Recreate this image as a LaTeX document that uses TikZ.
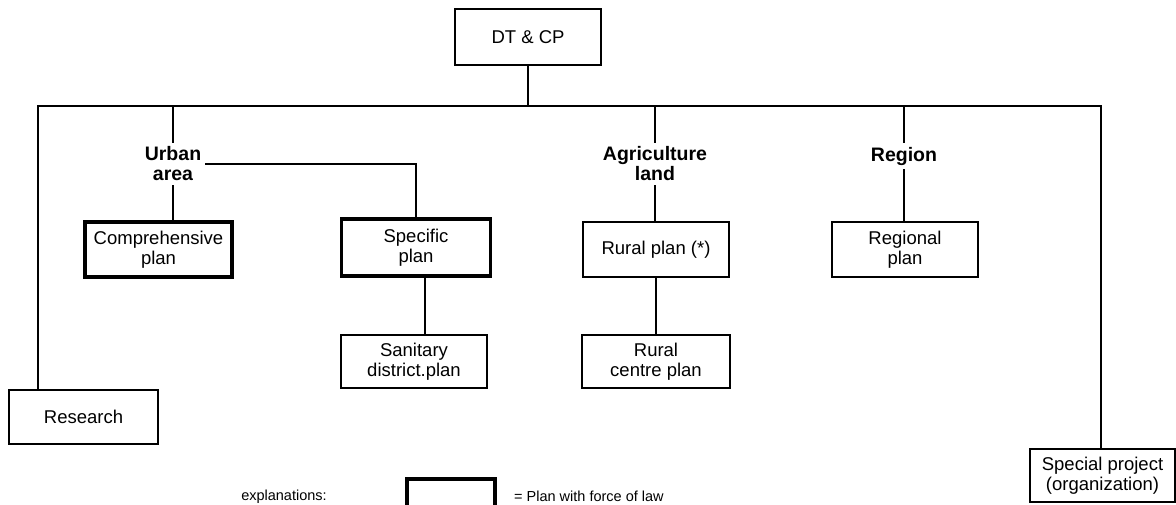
\documentclass[tikz,border=0pt]{standalone}
\usepackage{fontspec}
\setmainfont{Liberation Sans}
\begin{document}
\begin{tikzpicture}[x=1pt,y=-1pt,
  box/.style={draw, line width=1.5pt, rectangle, align=center, inner sep=0pt,
    font=\fontsize{18.5}{20}\selectfont},
  lawbox/.style={box, line width=3.5pt},
  lbl/.style={align=center, inner sep=4pt, font=\fontsize{19.5}{20}\selectfont\bfseries},
  legtext/.style={inner sep=0pt, font=\fontsize{14.5}{16}\selectfont},
  conn/.style={line width=1.5pt}]
\useasboundingbox[fill=white] (0,0) rectangle (1176,504);

% boxes
\node[box, minimum width=146pt, minimum height=56pt] (dt) at (528,37) {DT \& CP};
\node[lawbox, minimum width=147pt, minimum height=55pt] (comp) at (158.5,249.5) {Comprehensive\\plan};
\node[lawbox, minimum width=149pt, minimum height=57pt] (spec) at (416,247.5) {Specific\\plan};
\node[box, minimum width=146pt, minimum height=53pt] (san) at (414,361.5) {Sanitary\\district.plan};
\node[box, minimum width=146pt, minimum height=55pt] (rural) at (656,249.5) {Rural plan (*)};
\node[box, minimum width=148pt, minimum height=53pt] (rcentre) at (656,361.5) {Rural\\centre plan};
\node[box, minimum width=146pt, minimum height=55pt] (regional) at (905,249.5) {Regional\\plan};
\node[box, minimum width=149pt, minimum height=54pt] (research) at (83.5,417) {Research};
\node[box, minimum width=145pt, minimum height=53pt] (special) at (1102.5,475.5) {Special project\\(organization)};

% category labels
\node[lbl] (urban) at (173,164) {Urban\\area};
\node[lbl] (agri) at (655,164) {Agriculture\\land};
\node[lbl] (region) at (904,156) {Region};

% bus
\coordinate (busL) at (38,106);
\coordinate (busR) at (1101,106);
\draw[conn] (dt.south) -- (dt.south |- busL);
\draw[conn] (research.north -| busL) -- (busL) -- (busR) -- (busR |- special.north);
\draw[conn] (urban.north |- busL) -- (urban.north);
\draw[conn] (agri.north |- busL) -- (agri.north);
\draw[conn] (region.north |- busL) -- (region.north);

% branches
\draw[conn] (urban.south) -- (urban.south |- comp.north);
\draw[conn] (urban.east) -| (spec.north);
\draw[conn] ([xshift=9pt]spec.south) -- ([xshift=9pt]spec.south |- san.north);
\draw[conn] (agri.south) -- (agri.south |- rural.north);
\draw[conn] (rural.south) -- (rcentre.north);
\draw[conn] (region.south) -- (region.south |- regional.north);

% legend
\node[legtext, anchor=base] (expl) at (284,500) {explanations:};
\node[lawbox, minimum width=88pt, minimum height=60pt] (legbox) at (451,509) {};
\node[legtext, anchor=base west] (legdesc) at (514,501) {= Plan with force of law};
\end{tikzpicture}
\end{document}
